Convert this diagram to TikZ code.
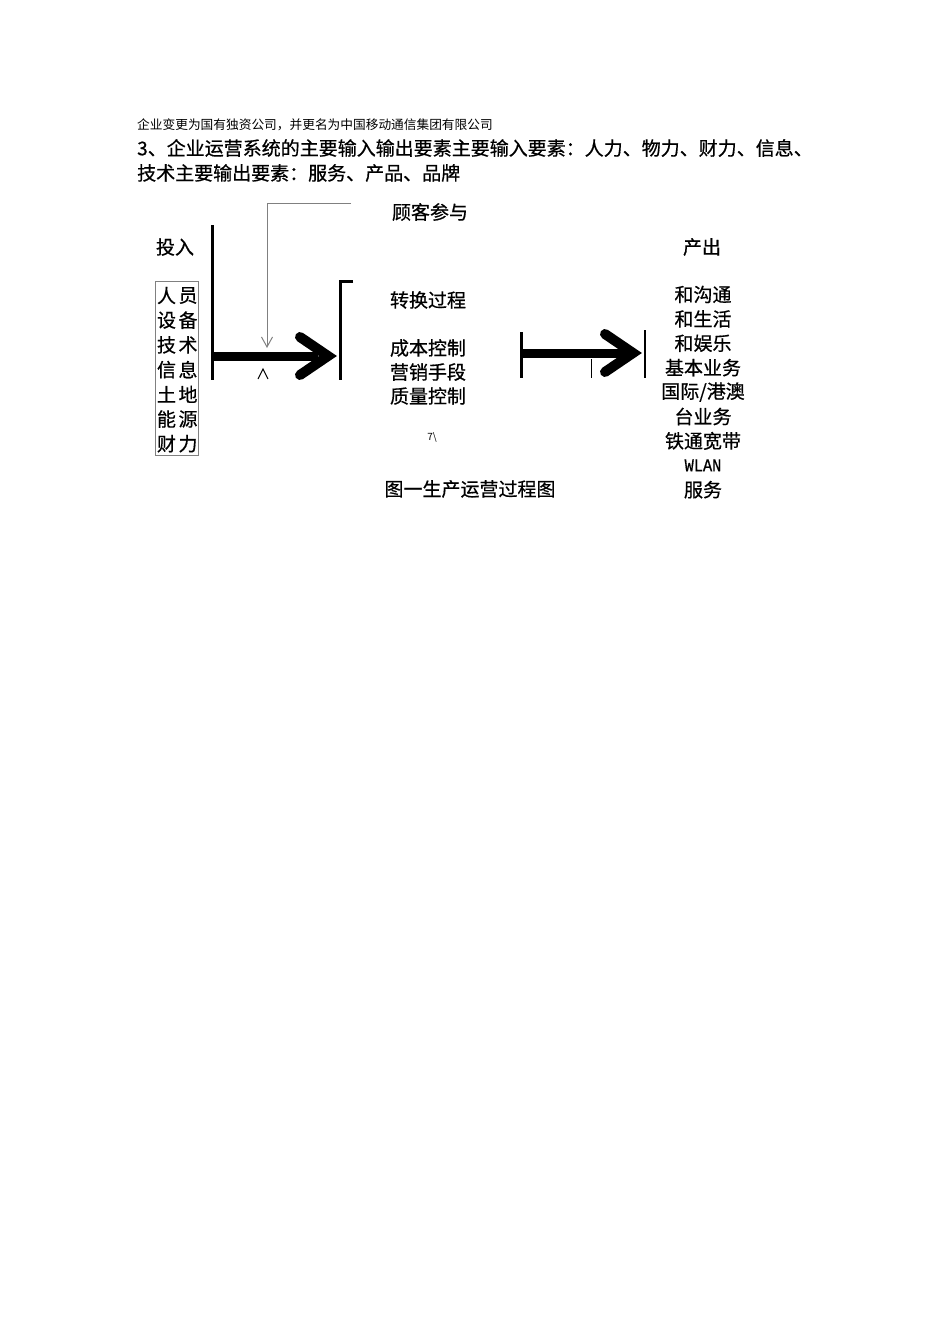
\documentclass[tikz,border=0pt]{standalone}
\usepackage{fontspec}
\newfontfamily\cjk[FakeBold=0.6]{Noto Sans CJK SC}
\newfontfamily\cjklight{Noto Sans CJK SC}
\newfontfamily\monof[FakeBold=0.8]{Liberation Mono}
\usetikzlibrary{arrows.meta}
\tikzset{
  txt/.style={font=\cjk\fontsize{19}{24}\selectfont, inner sep=0pt},
  smalltxt/.style={font=\cjklight\fontsize{12.7}{15}\selectfont, inner sep=0pt},
  barline/.style={line width=3pt},
  shaft/.style={line width=9pt},
  chevron/.style={line width=10pt, line cap=round, line join=miter},
  thinline/.style={line width=1.2pt},
  grayline/.style={draw=black!50, line width=1pt}
}
\begin{document}
\begin{tikzpicture}[x=1pt,y=-1pt]
\useasboundingbox[fill=white] (0,0) rectangle (950,1344);
% header text
\node[smalltxt, anchor=west] (h1) at (137,125) {企业变更为国有独资公司，并更名为中国移动通信集团有限公司};
\node[txt, anchor=west] (h2) at (137,148) {3、企业运营系统的主要输入输出要素主要输入要素：人力、物力、财力、信息、};
\node[txt, anchor=west] (h3) at (137,173) {技术主要输出要素：服务、产品、品牌};
% labels
\node[txt] (gk) at (430,212) {顾客参与};
\node[txt] (tr) at (175,247) {投入};
\node[txt] (cc) at (702,247) {产出};
% input box
\draw[grayline] (155,281) rectangle (198,455);
\foreach \a/\b [count=\i from 0] in {人/员,设/备,技/术,信/息,土/地,能/源,财/力}{
  \node[txt] (l\i) at (166.5,{295.5+24.7*\i}) {\a};
  \node[txt] (r\i) at (188,{295.5+24.7*\i}) {\b};
}
% process texts
\node[txt] (zh) at (428,300) {转换过程};
\node[txt] (cb) at (428,348) {成本控制};
\node[txt] (yx) at (428,372) {营销手段};
\node[txt] (zl) at (428,396) {质量控制};
\node[font=\cjklight\fontsize{10}{10}\selectfont, inner sep=0pt] (sm) at (432,437) {7\textbackslash};
\node[txt] (cap) at (470,489) {图一生产运营过程图};
% output texts
\foreach \t [count=\i from 0] in {和沟通,和生活,和娱乐,基本业务,国际/港澳,台业务,铁通宽带,{\scalebox{0.85}[1]{\monof\fontsize{18}{18}\selectfont WLAN}},服务}{
  \node[txt] (o\i) at (703,{294.5+24.4*\i}) {\t};
}
% coordinates
\coordinate (lbT) at (212,225);
\coordinate (lbB) at (212,380);
\coordinate (rbT) at (340,281);
\coordinate (rbB) at (340,380);
\coordinate (rbE) at (353,281);
\coordinate (s1) at (212,356);
\coordinate (e1) at (318,356);
\coordinate (h1a) at (300,337);
\coordinate (h1t) at (328,356);
\coordinate (h1b) at (300,375);
\coordinate (gS) at (351,203);
\coordinate (gC) at (267,203);
\coordinate (gE) at (267,348);
\coordinate (cL) at (258,379);
\coordinate (cT) at (263,369);
\coordinate (cR) at (268,379);
\coordinate (l2T) at (521,332);
\coordinate (l2B) at (521,378);
\coordinate (s2) at (521,353);
\coordinate (e2) at (625,353);
\coordinate (h2a) at (605,334);
\coordinate (h2t) at (633,353);
\coordinate (h2b) at (605,372);
\coordinate (r2T) at (645,330);
\coordinate (r2B) at (645,378);
\coordinate (tkT) at (591,359);
\coordinate (tkB) at (591,378);
% first system
\draw[barline] (lbT) -- (lbB);
\draw[barline] (rbE) -- (rbT) -- (rbB);
\draw[shaft] (s1) -- (e1);
\draw[chevron] (h1a) -- (h1t) -- (h1b);
\draw[grayline, -{Straight Barb[length=10pt,width=11pt]}] (gS) -- (gC) -- (gE);
\draw[line width=1pt] (cL) -- (cT) -- (cR);
% second arrow
\draw[barline] (l2T) -- (l2B);
\draw[shaft] (s2) -- (e2);
\draw[chevron] (h2a) -- (h2t) -- (h2b);
\draw[thinline] (r2T) -- (r2B);
\draw[line width=1pt] (tkT) -- (tkB);
\end{tikzpicture}
\end{document}
